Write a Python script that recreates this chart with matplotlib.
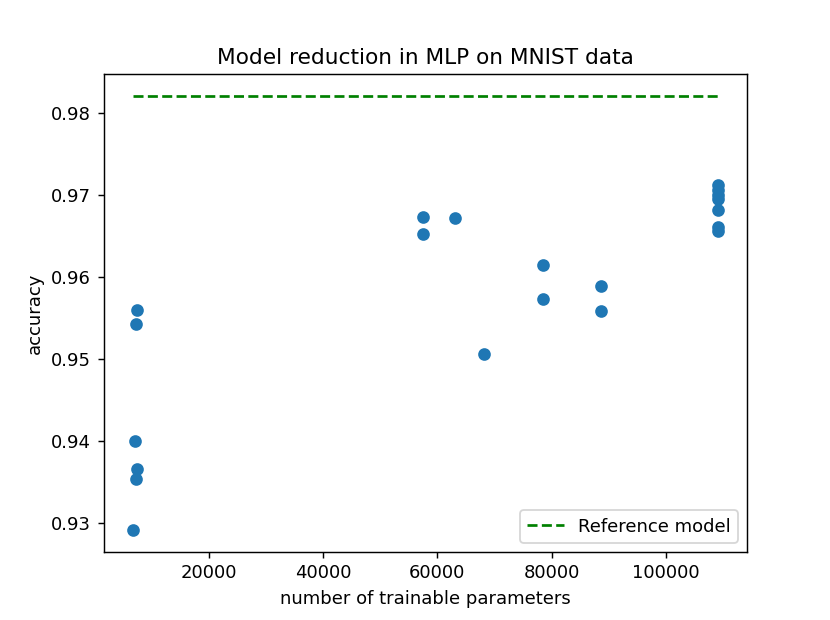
import matplotlib
matplotlib.use("Agg")
import matplotlib.pyplot as plt

# trainable parameters of the reduced models and their accuracy
n_params = [7370, 7250, 7020, 7370, 7190, 6670,
            57420, 57420, 63090, 68250, 78530, 78420, 88700, 88700,
            109120, 109120, 109120, 109120, 109120, 109120, 109120]
accuracy = [0.9559, 0.9542, 0.9399, 0.9366, 0.9353, 0.9291,
            0.9673, 0.9652, 0.9672, 0.9506, 0.9614, 0.9573, 0.9588, 0.9558,
            0.9712, 0.9706, 0.9700, 0.9695, 0.9681, 0.9660, 0.9655]

reference_acc = 0.982

plt.figure(figsize=(830 / 130, 620 / 130), dpi=130)
plt.scatter(n_params, accuracy)
plt.plot([min(n_params), max(n_params)], [reference_acc, reference_acc],
         'g--', label='Reference model')
plt.title('Model reduction in MLP on MNIST data')
plt.xlabel('number of trainable parameters')
plt.ylabel('accuracy')
plt.legend(loc='lower right')
plt.savefig('out.png', dpi=130)
